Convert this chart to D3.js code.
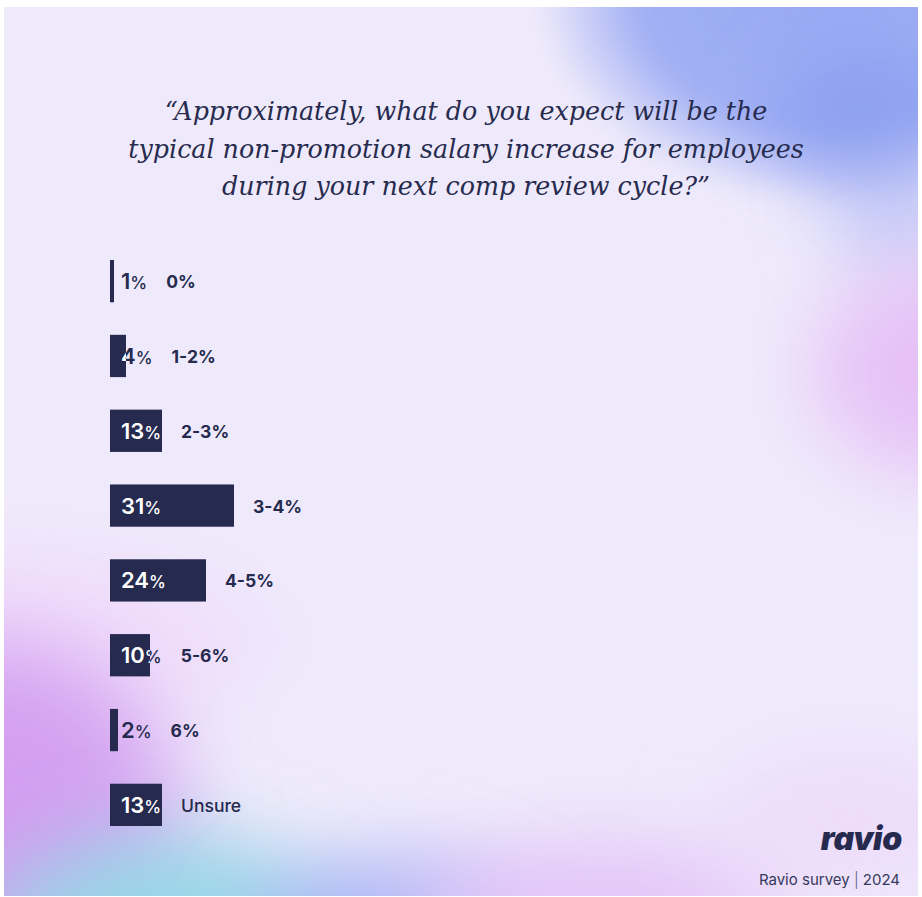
<!DOCTYPE html>
<html>
<head>
<meta charset="utf-8">
<script src="https://cdn.jsdelivr.net/npm/d3@7"></script>
<style>
  html, body { margin: 0; padding: 0; background: #ffffff; }
  svg { display: block; }
</style>
</head>
<body>
<svg id="chart" width="922" height="897"></svg>
<script>
// Survey answers: expected non-promotion salary increase
const categories = ["0%", "1-2%", "2-3%", "3-4%", "4-5%", "5-6%", "6%", "Unsure"];
const shares = [1, 4, 13, 31, 24, 10, 2, 13];

const titleLines = [
  "\u201CApproximately, what do you expect will be the",
  "typical non-promotion salary increase for employees",
  "during your next comp review cycle?\u201D"
];
const brand = "ravio";
const sourceNote = ["Ravio survey", "2024"];

const ink = "#252a4e";

const svg = d3.select("#chart");
const defs = svg.append("defs");

// ---- soft gradient backdrop ----
const panel = { x: 4, y: 7, w: 914, h: 889 };
defs.append("clipPath").attr("id", "panel-clip")
  .append("rect").attr("x", panel.x).attr("y", panel.y).attr("width", panel.w).attr("height", panel.h);

function blurFilter(id, sd) {
  defs.append("filter").attr("id", id)
    .attr("x", "-50%").attr("y", "-50%").attr("width", "200%").attr("height", "200%")
    .append("feGaussianBlur").attr("stdDeviation", sd);
}
blurFilter("soft", 10);
blurFilter("softer", 35);

const blobs = [
  { id: "g-blue", cx: 830, cy: -10, rx: 295, ry: 215, color: "#98a9f3", inner: 1, mid: 0.9, filter: "soft" },
  { id: "g-blue2", cx: 870, cy: 120, rx: 120, ry: 80, color: "#8599ef", inner: 0.9, mid: 0.6, filter: "softer" },
  { id: "g-blue3", cx: 900, cy: 210, rx: 90, ry: 90, color: "#a9b4f4", inner: 0.7, mid: 0.4, filter: "softer" },
  { id: "g-pinkR", cx: 935, cy: 370, rx: 150, ry: 130, color: "#e5bcf6", inner: 1, mid: 0.8, filter: "softer" },
  { id: "g-pinkL", cx: 20, cy: 640, rx: 300, ry: 110, color: "#f0d7fb", inner: 0.9, mid: 0.6, filter: "softer" },
  { id: "g-purple", cx: -10, cy: 820, rx: 230, ry: 215, color: "#d29cf0", inner: 1, mid: 0.9, filter: "softer" },
  { id: "g-cyan", cx: 165, cy: 935, rx: 210, ry: 125, color: "#95d6e6", inner: 1, mid: 0.9, filter: "softer" },
  { id: "g-blueB", cx: 390, cy: 935, rx: 170, ry: 95, color: "#a4b1f4", inner: 1, mid: 0.8, filter: "softer" },
  { id: "g-pinkB", cx: 600, cy: 910, rx: 230, ry: 90, color: "#e3c3f8", inner: 1, mid: 0.8, filter: "softer" },
  { id: "g-pinkBR", cx: 850, cy: 820, rx: 170, ry: 90, color: "#ecd4fb", inner: 0.7, mid: 0.5, filter: "softer" }
];

blobs.forEach(b => {
  const g = defs.append("radialGradient").attr("id", b.id);
  g.append("stop").attr("offset", "0%").attr("stop-color", b.color).attr("stop-opacity", b.inner);
  g.append("stop").attr("offset", "65%").attr("stop-color", b.color).attr("stop-opacity", b.mid);
  g.append("stop").attr("offset", "100%").attr("stop-color", b.color).attr("stop-opacity", 0);
});

const bg = svg.append("g").attr("clip-path", "url(#panel-clip)");
bg.append("rect").attr("x", panel.x).attr("y", panel.y).attr("width", panel.w).attr("height", panel.h)
  .attr("fill", "#efeafb");
bg.selectAll("ellipse").data(blobs).join("ellipse")
  .attr("cx", d => d.cx).attr("cy", d => d.cy)
  .attr("rx", d => d.rx).attr("ry", d => d.ry)
  .attr("fill", d => `url(#${d.id})`)
  .attr("filter", d => `url(#${d.filter})`);

// ---- title ----
const titleText = svg.append("g").selectAll("text").data(titleLines).join("text")
  .attr("x", 466)
  .attr("y", (d, i) => 120 + i * 37.5)
  .attr("text-anchor", "middle")
  .attr("font-family", "'DejaVu Serif', 'Liberation Serif', serif")
  .attr("font-style", "italic")
  .attr("font-size", 26)
  .attr("fill", "#272b4e")
  .text(d => d);
// fit the widest line to the layout width
const widest = d3.max(titleText.nodes(), n => n.getComputedTextLength());
titleText.attr("font-size", 26 * 676 / widest);

// ---- bars ----
const x0 = 110;
const x = d3.scaleLinear().domain([0, 100]).range([x0, x0 + 400]);
const y = d3.scaleBand()
  .domain(categories)
  .range([260, 826])
  .paddingInner(0.435)
  .paddingOuter(0);

const rows = categories.map((c, i) => ({ cat: c, v: shares[i], i }));

rows.forEach(r => {
  defs.append("clipPath").attr("id", "bar-clip-" + r.i)
    .append("rect")
    .attr("x", x(0)).attr("y", y(r.cat))
    .attr("width", x(r.v) - x(0)).attr("height", y.bandwidth());
});

const rowG = svg.append("g").selectAll("g").data(rows).join("g");

rowG.append("rect")
  .attr("x", x(0))
  .attr("y", d => y(d.cat))
  .attr("width", d => x(d.v) - x(0))
  .attr("height", y.bandwidth())
  .attr("fill", ink);

function valueLabel(sel, color) {
  const t = sel.append("text")
    .attr("x", x(0) + 11)
    .attr("y", d => y(d.cat) + y.bandwidth() / 2 + 8)
    .attr("font-family", "Inter, 'Noto Sans', sans-serif")
    .attr("fill", color);
  t.append("tspan").attr("font-size", 22).attr("font-weight", 600).text(d => d.v);
  t.append("tspan").attr("font-size", 17).attr("font-weight", 500).text("%");
  return t;
}
// dark value text, with a white copy showing where it overlaps the bar
const darkVals = valueLabel(rowG, ink);
valueLabel(rowG.append("g").attr("clip-path", d => `url(#bar-clip-${d.i})`), "#ffffff");

// category names follow the bar or the value text, whichever ends later
rowG.append("text")
  .attr("x", function (d, i) {
    const bb = darkVals.nodes()[i].getBBox();
    return Math.max(x(d.v), bb.x + bb.width) + 19;
  })
  .attr("y", d => y(d.cat) + y.bandwidth() / 2 + 7)
  .attr("font-family", "Inter, 'Noto Sans', sans-serif")
  .attr("font-size", 17.5)
  .attr("font-weight", d => d.cat === "Unsure" ? 500 : 700)
  .attr("fill", ink)
  .text(d => d.cat);

// ---- footer ----
svg.append("text")
  .attr("x", 902).attr("y", 850)
  .attr("text-anchor", "end")
  .attr("font-family", "Inter, 'Noto Sans', sans-serif")
  .attr("font-size", 32)
  .attr("font-weight", 900)
  .attr("font-style", "italic")
  .attr("letter-spacing", -0.3)
  .attr("fill", ink)
  .text(brand);

const note = svg.append("text")
  .attr("x", 900).attr("y", 885)
  .attr("text-anchor", "end")
  .attr("font-family", "Inter, 'Noto Sans', sans-serif")
  .attr("font-size", 15)
  .attr("fill", "#363a5c");
note.append("tspan").text(sourceNote[0] + " ");
note.append("tspan").attr("font-weight", 300).attr("fill", "#5a5d78").text("|");
note.append("tspan").text(" " + sourceNote[1]);
</script>
</body>
</html>
